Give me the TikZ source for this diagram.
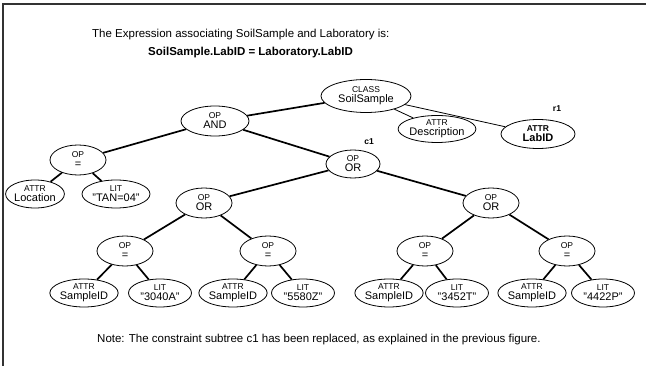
\documentclass[tikz,border=0pt]{standalone}
\usepackage{fontspec}
\setmainfont{Liberation Sans}
\usetikzlibrary{shapes.geometric}
\newcommand{\tg}[1]{{\fontsize{8.5}{8.5}\selectfont #1}}
\begin{document}
\begin{tikzpicture}[x=1pt,y=-1pt,
  tnode/.style={ellipse,draw,line width=0.8pt,inner sep=0pt,align=center,
    font=\fontsize{11}{10}\selectfont},
  big/.style={tnode,minimum width=90,minimum height=33},
  mid/.style={tnode,minimum width=56,minimum height=30},
  leaf/.style={tnode,minimum width=67,minimum height=28},
  lit/.style={tnode,minimum width=63,minimum height=28},
  heavy/.style={line width=1.7pt},
  light/.style={line width=0.8pt},
  caption/.style={font=\fontsize{11.5}{13}\selectfont,anchor=west,inner sep=0pt},
  tag/.style={font=\bfseries\fontsize{8.5}{9}\selectfont,inner sep=0pt}]
\useasboundingbox (0,0) rectangle (646,366);
% frame edges
\draw[line width=1.3pt,black!80] (3,366) -- (3,4) -- (646,4);

% heading
\node[caption] (head) at (92,35) {The Expression associating SoilSample and Laboratory is:};
\node[caption,font=\bfseries\fontsize{11.5}{13}\selectfont] (expr) at (148,53) {SoilSample.LabID = Laboratory.LabID};

% tree nodes
\node[big] (cls) at (366,96) {\tg{CLASS}\\SoilSample};
\node[tnode,minimum width=68,minimum height=30] (and) at (215,121) {\tg{OP}\\AND};
\node[tnode,minimum width=64,minimum height=27] (desc) at (437,129) {\tg{ATTR}\\Description};
\node[tnode,minimum width=74,minimum height=29,font=\bfseries\fontsize{11}{10}\selectfont] (lab) at (538,134) {\tg{ATTR}\\LabID};
\node[tag] (r1) at (557,109) {r1};

\node[mid] (eq0) at (78,160) {\tg{OP}\\=};
\node[tnode,minimum width=58,minimum height=28] (loc) at (35,194) {\tg{ATTR}\\Location};
\node[tnode,minimum width=68,minimum height=28] (tan) at (116,194) {\tg{LIT}\\"TAN=04"};

\node[tnode,minimum width=54,minimum height=28] (c1) at (353,164) {\tg{OP}\\OR};
\node[tag] (c1lbl) at (369,142) {c1};

\node[mid] (orL) at (204,203) {\tg{OP}\\OR};
\node[mid] (orR) at (491,203) {\tg{OP}\\OR};

\node[mid] (eq1) at (125,251) {\tg{OP}\\=};
\node[mid] (eq2) at (268,251) {\tg{OP}\\=};
\node[mid] (eq3) at (425,251) {\tg{OP}\\=};
\node[mid] (eq4) at (567,251) {\tg{OP}\\=};

\node[leaf] (a1) at (84,293) {\tg{ATTR}\\SampleID};
\node[lit] (l1) at (160,293) {\tg{LIT}\\"3040A"};
\node[leaf] (a2) at (233,293) {\tg{ATTR}\\SampleID};
\node[lit] (l2) at (303,293) {\tg{LIT}\\"5580Z"};
\node[leaf] (a3) at (389,293) {\tg{ATTR}\\SampleID};
\node[lit] (l3) at (457,293) {\tg{LIT}\\"3452T"};
\node[leaf] (a4) at (532,293) {\tg{ATTR}\\SampleID};
\node[lit] (l4) at (603,293) {\tg{LIT}\\"4422P"};

% edges
\draw[heavy] (cls) -- (and);
\draw[light] (cls) -- (desc);
\draw[light] (cls) -- (lab);
\draw[heavy] (and) -- (eq0);
\draw[heavy] (and) -- (c1);
\draw[heavy] (eq0) -- (loc);
\draw[heavy] (eq0) -- (tan);
\draw[heavy] (c1) -- (orL);
\draw[heavy] (c1) -- (orR);
\draw[heavy] (orL) -- (eq1);
\draw[heavy] (orL) -- (eq2);
\draw[heavy] (orR) -- (eq3);
\draw[heavy] (orR) -- (eq4);
\draw[heavy] (eq1) -- (a1);
\draw[heavy] (eq1) -- (l1);
\draw[heavy] (eq2) -- (a2);
\draw[heavy] (eq2) -- (l2);
\draw[heavy] (eq3) -- (a3);
\draw[heavy] (eq3) -- (l3);
\draw[heavy] (eq4) -- (a4);
\draw[heavy] (eq4) -- (l4);

% footnote
\node[caption] (note) at (97,340) {Note: The constraint subtree c1 has been replaced, as explained in the previous figure.};
\end{tikzpicture}
\end{document}
